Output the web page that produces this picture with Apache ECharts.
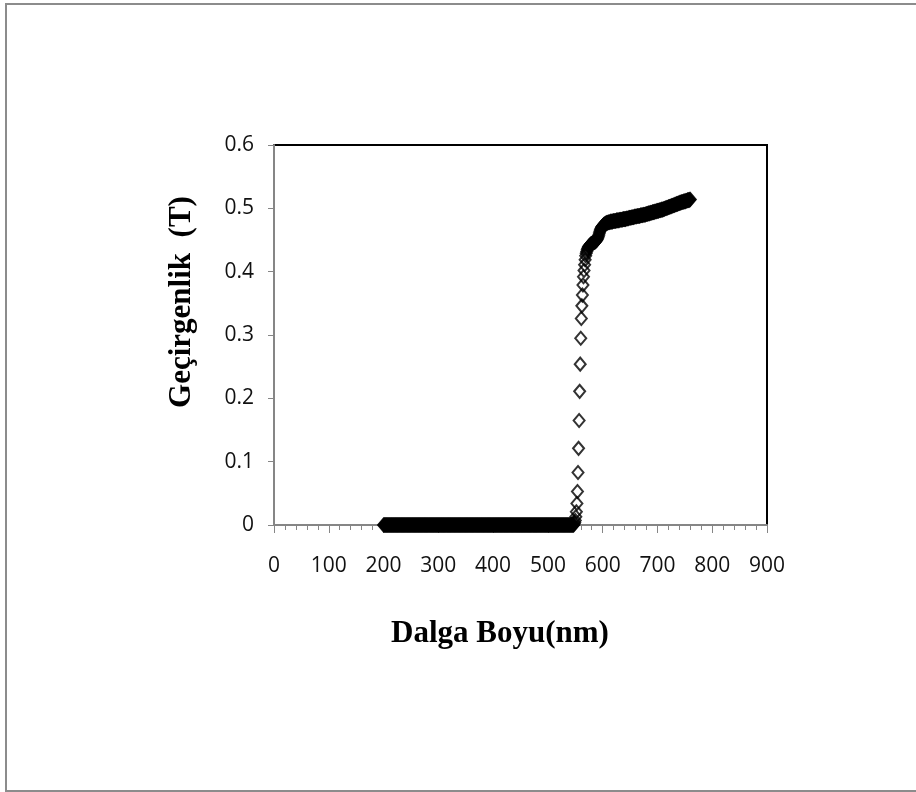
<!DOCTYPE html>
<html>
<head>
<meta charset="utf-8">
<title>Geçirgenlik spektrumu</title>
<script src="https://cdn.jsdelivr.net/npm/echarts@6/dist/echarts.min.js"></script>
<style>
  html, body { margin: 0; padding: 0; background: #fff; }
  #chart { width: 916px; height: 792px; }
</style>
</head>
<body>
<div id="chart"></div>
<script>
// Transmittance spectrum, sampled every 1 nm, split into three segments.
const stepNm = 1;

// Baseline: 200–547 nm, fully absorbing
const baselineStart = 200;
const baselineT = [
  0,0,0,0,0,0,0,0,0,0,0,0,0,0,0,0,0,0,0,0,
  0,0,0,0,0,0,0,0,0,0,0,0,0,0,0,0,0,0,0,0,
  0,0,0,0,0,0,0,0,0,0,0,0,0,0,0,0,0,0,0,0,
  0,0,0,0,0,0,0,0,0,0,0,0,0,0,0,0,0,0,0,0,
  0,0,0,0,0,0,0,0,0,0,0,0,0,0,0,0,0,0,0,0,
  0,0,0,0,0,0,0,0,0,0,0,0,0,0,0,0,0,0,0,0,
  0,0,0,0,0,0,0,0,0,0,0,0,0,0,0,0,0,0,0,0,
  0,0,0,0,0,0,0,0,0,0,0,0,0,0,0,0,0,0,0,0,
  0,0,0,0,0,0,0,0,0,0,0,0,0,0,0,0,0,0,0,0,
  0,0,0,0,0,0,0,0,0,0,0,0,0,0,0,0,0,0,0,0,
  0,0,0,0,0,0,0,0,0,0,0,0,0,0,0,0,0,0,0,0,
  0,0,0,0,0,0,0,0,0,0,0,0,0,0,0,0,0,0,0,0,
  0,0,0,0,0,0,0,0,0,0,0,0,0,0,0,0,0,0,0,0,
  0,0,0,0,0,0,0,0,0,0,0,0,0,0,0,0,0,0,0,0,
  0,0,0,0,0,0,0,0,0,0,0,0,0,0,0,0,0,0,0,0,
  0,0,0,0,0,0,0,0,0,0,0,0,0,0,0,0,0,0,0,0,
  0,0,0,0,0,0,0,0,0,0,0,0,0,0,0,0,0,0,0,0,
  0,0,0,0,0,0,0,0
];

// Absorption edge: 548–610 nm
const edgeStart = 548;
const edgeT = [
  0.002, 0.004, 0.007, 0.013, 0.021, 0.034, 0.053, 0.083, 0.121, 0.165,
  0.211, 0.254, 0.295, 0.326, 0.346, 0.363, 0.379, 0.392, 0.402, 0.411,
  0.419, 0.425, 0.429, 0.432, 0.435, 0.437, 0.439, 0.440, 0.441, 0.442,
  0.443, 0.444, 0.444, 0.445, 0.445, 0.446, 0.446, 0.447, 0.447, 0.448,
  0.449, 0.450, 0.451, 0.453, 0.455, 0.458, 0.461, 0.464, 0.466, 0.468,
  0.470, 0.471, 0.472, 0.473, 0.474, 0.475, 0.475, 0.476, 0.476, 0.477,
  0.477, 0.477, 0.478
];

// Transparent region: 611–760 nm
const plateauStart = 611;
const plateauT = [
  0.478, 0.478, 0.478, 0.479, 0.479, 0.479, 0.479, 0.479, 0.480, 0.480,
  0.480, 0.480, 0.480, 0.480, 0.481, 0.481, 0.481, 0.481, 0.481, 0.481,
  0.482, 0.482, 0.482, 0.482, 0.482, 0.482, 0.483, 0.483, 0.483, 0.483,
  0.483, 0.483, 0.484, 0.484, 0.484, 0.484, 0.484, 0.485, 0.485, 0.485,
  0.485, 0.485, 0.486, 0.486, 0.486, 0.486, 0.486, 0.487, 0.487, 0.487,
  0.487, 0.487, 0.488, 0.488, 0.488, 0.488, 0.488, 0.488, 0.489, 0.489,
  0.489, 0.489, 0.489, 0.490, 0.490, 0.490, 0.490, 0.490, 0.491, 0.491,
  0.491, 0.491, 0.492, 0.492, 0.492, 0.492, 0.493, 0.493, 0.493, 0.493,
  0.494, 0.494, 0.494, 0.494, 0.495, 0.495, 0.495, 0.495, 0.496, 0.496,
  0.496, 0.496, 0.497, 0.497, 0.497, 0.497, 0.498, 0.498, 0.498, 0.498,
  0.499, 0.499, 0.499, 0.500, 0.500, 0.500, 0.501, 0.501, 0.501, 0.502,
  0.502, 0.502, 0.503, 0.503, 0.503, 0.504, 0.504, 0.504, 0.505, 0.505,
  0.505, 0.506, 0.506, 0.506, 0.507, 0.507, 0.507, 0.508, 0.508, 0.508,
  0.509, 0.509, 0.509, 0.510, 0.510, 0.510, 0.510, 0.511, 0.511, 0.511,
  0.511, 0.512, 0.512, 0.512, 0.513, 0.513, 0.513, 0.513, 0.514, 0.514
];

// Axis ranges and labels
const xRange = [0, 900];
const xStep = 100;
const yRange = [0, 0.6];
const yStep = 0.1;
const xTitle = 'Dalga Boyu(nm)';
const yTitle = 'Geçirgenlik  (T)';

function toPoints(start, values) {
  return values.map((t, i) => [start + i * stepNm, t]);
}
const points = []
  .concat(toPoints(baselineStart, baselineT))
  .concat(toPoints(edgeStart, edgeT))
  .concat(toPoints(plateauStart, plateauT));

const labelFont = '"Open Sans", "Liberation Sans", sans-serif';
const titleFont = 'bold 31px "Liberation Serif", "DejaVu Serif", serif';
const axisGray = '#868686';

const chart = echarts.init(document.getElementById('chart'), null, { renderer: 'canvas' });
chart.setOption({
  animation: false,
  backgroundColor: '#ffffff',
  grid: {
    left: 274, top: 145, width: 493, height: 380,
    show: true, borderColor: '#000', borderWidth: 2, backgroundColor: '#fff'
  },
  xAxis: {
    type: 'value',
    min: xRange[0], max: xRange[1], interval: xStep,
    axisLine: { show: true, onZero: false, lineStyle: { color: axisGray, width: 2 } },
    axisTick: { show: true, inside: false, length: 8, lineStyle: { color: axisGray, width: 1 } },
    minorTick: { show: true, splitNumber: 5, length: 5, lineStyle: { color: axisGray, width: 1 } },
    splitLine: { show: false },
    axisLabel: { margin: 31, color: '#111', fontSize: 21, fontFamily: labelFont }
  },
  yAxis: {
    type: 'value',
    min: yRange[0], max: yRange[1], interval: yStep,
    axisLine: { show: true, onZero: false, lineStyle: { color: axisGray, width: 2 } },
    axisTick: { show: true, inside: false, length: 6, lineStyle: { color: axisGray, width: 1 } },
    splitLine: { show: false },
    axisLabel: {
      margin: 20, color: '#111', fontSize: 21, fontFamily: labelFont,
      formatter: v => (v === 0 ? '0' : v.toFixed(1))
    }
  },
  graphic: [
    {
      type: 'rect', silent: true, z: -10,
      shape: { x: 6, y: 4, width: 930, height: 787 },
      style: { fill: 'none', stroke: '#8c8c8c', lineWidth: 2 }
    },
    {
      type: 'text', x: 500, y: 634,
      style: { text: xTitle, font: titleFont, fill: '#000', align: 'center', verticalAlign: 'middle' }
    },
    {
      type: 'text', x: 182, y: 302, rotation: Math.PI / 2,
      style: { text: yTitle, font: titleFont, fill: '#000', align: 'center', verticalAlign: 'middle' }
    }
  ],
  series: [{
    type: 'scatter',
    data: points,
    clip: false,
    symbol: 'diamond',
    symbolSize: [11, 13],
    itemStyle: { color: 'rgba(0,0,0,0)', borderColor: '#000', borderWidth: 2 },
    emphasis: { disabled: true }
  }]
});
</script>
</body>
</html>
